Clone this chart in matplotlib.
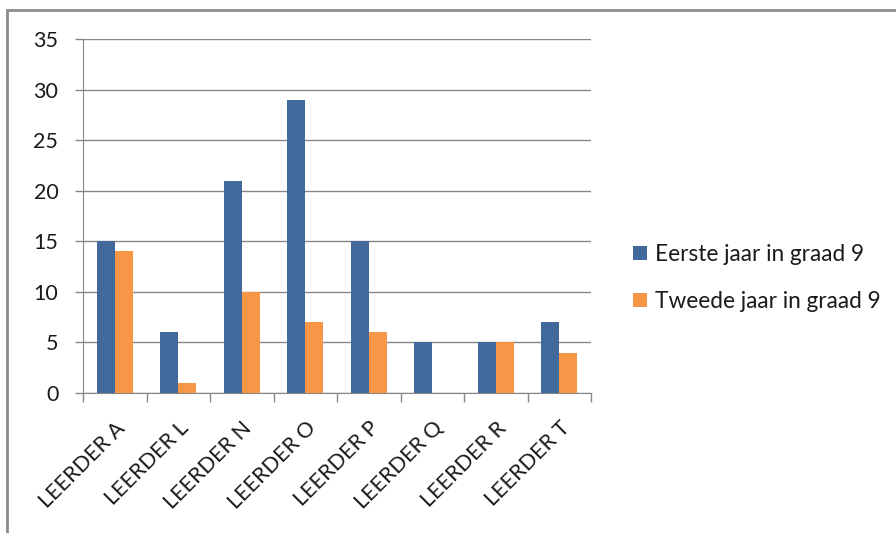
import matplotlib
matplotlib.use("Agg")
import matplotlib.pyplot as plt
import numpy as np
from matplotlib.patches import Rectangle

categories = ["LEERDER A", "LEERDER L", "LEERDER N", "LEERDER O",
              "LEERDER P", "LEERDER Q", "LEERDER R", "LEERDER T"]
eerste = [15, 6, 21, 29, 15, 5, 5, 7]
tweede = [14, 1, 10, 7, 6, 0, 5, 4]
series_names = ["Eerste jaar in graad 9", "Tweede jaar in graad 9"]
y_ticks = [0, 5, 10, 15, 20, 25, 30, 35]

plt.rcParams["font.family"] = ["Lato", "DejaVu Sans"]

W, H = 896, 533
fig = plt.figure(figsize=(W / 100, H / 100), dpi=100)
fig.patch.set_facecolor("white")

# outer chart frame
fig.add_artist(Rectangle((7 / W, -0.1), 1.2, 1 - 10 / H + 0.1,
                         transform=fig.transFigure, fill=False,
                         edgecolor="#8c8c8c", linewidth=2))

left, right, top, bottom = 83 / W, 591 / W, 39 / H, 393 / H
ax = fig.add_axes([left, 1 - bottom, right - left, bottom - top])

x = np.arange(len(categories))
bw = 0.283
blue, orange = "#41699c", "#f79646"
ax.bar(x - bw / 2, eerste, bw, color=blue, label=series_names[0], zorder=3)
ax.bar(x + bw / 2, tweede, bw, color=orange, label=series_names[1], zorder=3)

ax.set_xlim(-0.5, len(categories) - 0.5)
ax.set_ylim(0, 35)
ax.set_yticks(y_ticks)
ax.set_yticklabels([str(v) for v in y_ticks])

grid_c = "#868686"
ax.yaxis.grid(True, color=grid_c, linewidth=1, zorder=0)
for s in ["top", "right"]:
    ax.spines[s].set_visible(False)
ax.spines["left"].set_color(grid_c)
ax.spines["bottom"].set_color(grid_c)

ax.tick_params(axis="y", length=5.8, color=grid_c, width=1, pad=12,
               labelsize=15.5, labelcolor="#1a1a1a")
# category separators as minor ticks, labels on majors
ax.set_xticks(np.arange(-0.5, len(categories), 1.0), minor=True)
ax.set_xticks(x)
ax.set_xticklabels(categories, rotation=45, ha="right", va="top",
                   rotation_mode="anchor", fontsize=15.5, color="#1a1a1a")
ax.tick_params(axis="x", which="major", length=0, pad=18)
ax.tick_params(axis="x", which="minor", length=6.5, color=grid_c, width=1)

fig.legend(loc="center left", bbox_to_anchor=(613 / W, 1 - 278 / H),
           frameon=False, prop={"size": 16.3}, handlelength=0.62,
           handleheight=0.62, handletextpad=0.35, labelspacing=1.15,
           labelcolor="#1a1a1a")

fig.savefig("out.png", dpi=100, facecolor="white")
